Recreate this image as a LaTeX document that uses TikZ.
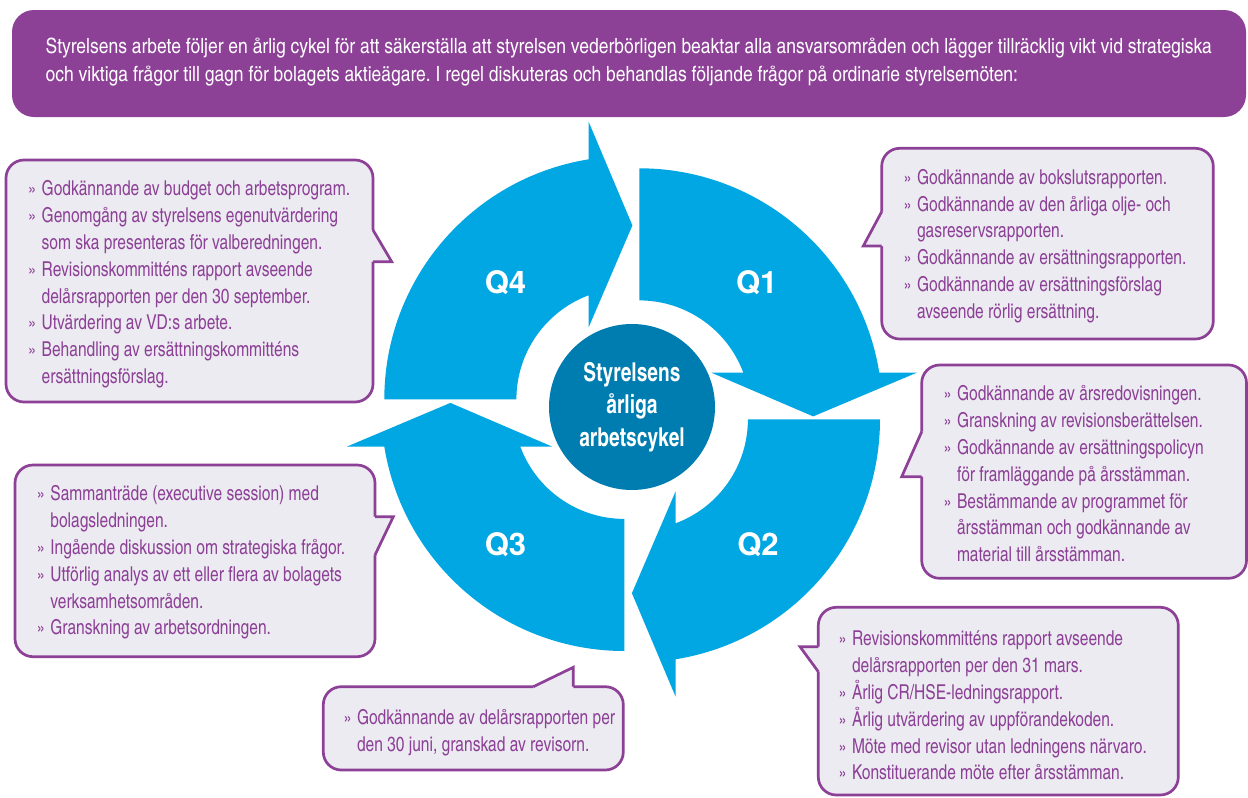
\documentclass[tikz,border=0pt]{standalone}
\usepackage{fontspec}
\setmainfont{texgyreheroscn}[Extension=.otf,UprightFont=*-regular,BoldFont=*-bold,ItalicFont=*-italic,BoldItalicFont=*-bolditalic,FakeStretch=0.925]
\newfontfamily\hfont{texgyreheroscn}[Extension=.otf,UprightFont=*-regular,BoldFont=*-bold,ItalicFont=*-italic,BoldItalicFont=*-bolditalic,FakeStretch=1.015]
\newfontfamily\cfont{texgyreheroscn}[Extension=.otf,UprightFont=*-regular,BoldFont=*-bold,ItalicFont=*-italic,BoldItalicFont=*-bolditalic,FakeStretch=0.9]
\newfontfamily\qfont{texgyreheros}[Extension=.otf,UprightFont=*-regular,BoldFont=*-bold,ItalicFont=*-italic,BoldItalicFont=*-bolditalic]
\definecolor{purp}{RGB}{140,64,150}
\definecolor{boxfill}{RGB}{237,235,242}
\definecolor{cyanA}{RGB}{0,167,227}
\definecolor{circ}{RGB}{0,125,176}
\newcommand\bul{\makebox[13.5pt][l]{\fontsize{19}{19}\selectfont »}}
\newcommand\ind{\hspace*{13.5pt}}
\frenchspacing
\begin{document}
\begin{tikzpicture}[x=1pt,y=-1pt,
  callbox/.style={draw=purp, fill=boxfill, line width=2.7pt, rounded corners=18pt},
  callline/.style={draw=purp, line width=2.7pt, line join=miter},
  boxtext/.style={anchor=north west, inner sep=0pt, align=left, text=purp, font=\fontsize{20.5}{26.8}\selectfont},
  qlabel/.style={text=white, font=\qfont\bfseries\fontsize{31}{31}\selectfont, inner sep=0pt},
  qarrow/.pic={\fill[cyanA] (-90:243.1) arc[start angle=-90, end angle=-9.16, radius=243.1] -- (277.4,-38.7) -- (173.9,5.0) -- (72.1,-38.7) -- (-20.4:111) arc[start angle=-20.4, end angle=-90, radius=111] -- cycle;}
]
\useasboundingbox (0,0) rectangle (1248,798);
\fill[white] (0,0) rectangle (1248,798);

% header
\fill[purp, rounded corners=22pt] (12,10) rectangle (1246,117);
\node[anchor=north west, inner sep=0pt, align=left, text=white, font=\hfont\fontsize{21}{28}\selectfont] (intro) at (45.4,33.9)
 {\strut Styrelsens arbete följer en årlig cykel för att säkerställa att styrelsen vederbörligen beaktar alla ansvarsområden och lägger tillräcklig vikt vid strategiska\\
  och viktiga frågor till gagn för bolagets aktieägare. I regel diskuteras och behandlas följande frågor på ordinarie styrelsemöten:};

% cycle arrows
\pic[rotate=0] at (639.3,411.4) {qarrow};
\pic[rotate=-90] at (636.9,419.3) {qarrow};
\pic[rotate=180] at (624.3,407.9) {qarrow};
\pic[rotate=90] at (627.4,399.3) {qarrow};

\node[circle, fill=circ, minimum size=166pt, inner sep=0pt, text=white, align=center, font=\cfont\bfseries\fontsize{26}{32.7}\selectfont] (hub) at (632,407) {Styrelsens\\årliga\\arbetscykel};

\node[qlabel] (q1) at (756.7,282.5) {Q1};
\node[qlabel] (q2) at (758,545) {Q2};
\node[qlabel] (q3) at (505.5,545) {Q3};
\node[qlabel] (q4) at (505.5,282.5) {Q4};

% callout Q4 (top left)
\draw[callbox] (6,160) rectangle (373,402);
\fill[boxfill] (369,230) -- (373,230) -- (391.7,261.7) -- (369,261.7) -- cycle;
\draw[callline] (373,230) -- (391.7,261.7) -- (373,261.7);
\node[boxtext] (t4) at (28,177.0) {\strut\bul Godkännande av budget och arbetsprogram.\\
\bul Genomgång av styrelsens egenutvärdering\\
\ind som ska presenteras för valberedningen.\\
\bul Revisionskommitténs rapport avseende\\
\ind delårsrapporten per den 30 september.\\
\bul Utvärdering av VD:s arbete.\\
\bul Behandling av ersättningskommitténs\\
\ind ersättningsförslag.};

% callout Q1 (top right)
\draw[callbox] (881.7,148.3) rectangle (1213.3,339);
\fill[boxfill] (885.7,211.7) -- (881.7,211.7) -- (863.3,246) -- (885.7,246) -- cycle;
\draw[callline] (881.7,211.7) -- (863.3,246) -- (881.7,246);
\node[boxtext] (t1) at (903.3,165.3) {\strut\bul Godkännande av bokslutsrapporten.\\
\bul Godkännande av den årliga olje- och\\
\ind gasreservsrapporten.\\
\bul Godkännande av ersättningsrapporten.\\
\bul Godkännande av ersättningsförslag\\
\ind avseende rörlig ersättning.};

% callout Q1/Q2 (right middle)
\draw[callbox] (921.7,365) rectangle (1246.5,578.3);
\fill[boxfill] (925.7,431.7) -- (921.7,431.7) -- (901.7,476.7) -- (925.7,476.7) -- cycle;
\draw[callline] (921.7,431.7) -- (901.7,476.7) -- (921.7,476.7);
\node[boxtext] (t1b) at (943.3,382.0) {\strut\bul Godkännande av årsredovisningen.\\
\bul Granskning av revisionsberättelsen.\\
\bul Godkännande av ersättningspolicyn\\
\ind för framläggande på årsstämman.\\
\bul Bestämmande av programmet för\\
\ind årsstämman och godkännande av\\
\ind material till årsstämman.};

% callout Q3 (left middle)
\draw[callbox] (15,465) rectangle (375,656.7);
\fill[boxfill] (371,516.7) -- (393.3,516.7) -- (375,555) -- (371,555) -- cycle;
\draw[callline] (375,516.7) -- (393.3,516.7) -- (375,555);
\node[boxtext] (t3) at (36.7,482.0) {\strut\bul Sammanträde (executive session) med\\
\ind bolagsledningen.\\
\bul Ingående diskussion om strategiska frågor.\\
\bul Utförlig analys av ett eller flera av bolagets\\
\ind verksamhetsområden.\\
\bul Granskning av arbetsordningen.};

% callout Q3 (bottom middle)
\draw[callbox] (323.3,686.7) rectangle (623.3,770);
\fill[boxfill] (533.3,690.7) -- (533.3,686.7) -- (573.3,667.3) -- (573.3,690.7) -- cycle;
\draw[callline] (533.3,686.7) -- (573.3,667.3) -- (573.3,686.7);
\node[boxtext] (t3b) at (343.3,705.3) {\strut\bul Godkännande av delårsrapporten per\\
\ind den 30 juni, granskad av revisorn.};

% callout Q2 (bottom right)
\draw[callbox] (818.3,607.3) rectangle (1178.3,795);
\fill[boxfill] (822.3,646.7) -- (800,646.7) -- (818.3,671.7) -- (822.3,671.7) -- cycle;
\draw[callline] (818.3,646.7) -- (800,646.7) -- (818.3,671.7);
\node[boxtext] (t2b) at (838.3,627.0) {\strut\bul Revisionskommitténs rapport avseende\\
\ind delårsrapporten per den 31 mars.\\
\bul Årlig CR/HSE-ledningsrapport.\\
\bul Årlig utvärdering av uppförandekoden.\\
\bul Möte med revisor utan ledningens närvaro.\\
\bul Konstituerande möte efter årsstämman.};
\end{tikzpicture}
\end{document}
